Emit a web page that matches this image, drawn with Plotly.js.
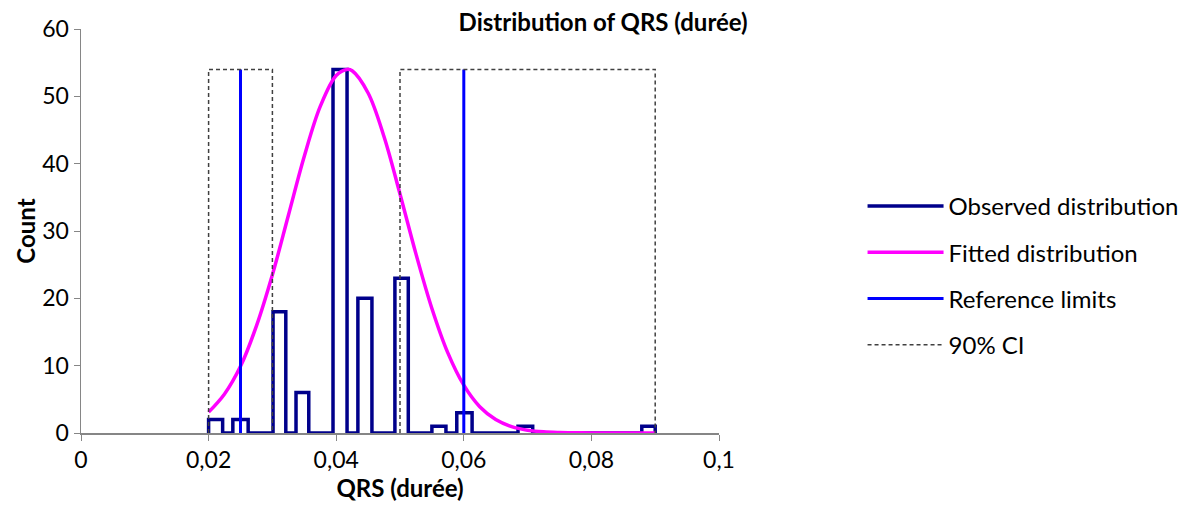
<!DOCTYPE html>
<html>
<head>
<meta charset="utf-8">
<script src="https://cdn.plot.ly/plotly-3.0.1.min.js"></script>
<style>html,body{margin:0;padding:0;background:#fff;}#chart{width:1192px;height:514px;}</style>
</head>
<body>
<div id="chart"></div>
<script>
// Observed distribution: bin edges and counts
const binLeft  = [0.0200, 0.0238, 0.0301, 0.0337, 0.0395, 0.0434, 0.0492, 0.0550, 0.0589, 0.0685, 0.0879];
const binRight = [0.0222, 0.0262, 0.0321, 0.0357, 0.0417, 0.0456, 0.0513, 0.0572, 0.0613, 0.0708, 0.0900];
const counts   = [2, 2, 18, 6, 54, 20, 23, 1, 3, 1, 1];

// Fitted distribution
const fitX = [0.0200, 0.0225, 0.0250, 0.0275, 0.0300, 0.0325, 0.0350, 0.0375, 0.0400, 0.0417, 0.0425, 0.0450, 0.0475, 0.0500, 0.0525, 0.0550, 0.0575, 0.0600, 0.0625, 0.0650, 0.0675, 0.0700, 0.0725, 0.0750, 0.0775, 0.0800, 0.0850, 0.0900];
const fitY = [3.1, 5.8, 9.9, 15.9, 23.5, 32.3, 41.1, 48.5, 53.1, 54.0, 53.8, 50.5, 44.0, 35.5, 26.6, 18.5, 11.9, 7.1, 3.9, 2.0, 0.95, 0.42, 0.17, 0.07, 0.03, 0.01, 0, 0];

// Reference limits and 90% CI bounds
const refLimits = [0.025, 0.06];
const ciLower = [0.02, 0.03];
const ciUpper = [0.05, 0.09];
const markerTop = 54;

const xTicks = [0, 0.02, 0.04, 0.06, 0.08, 0.1];
const yTicks = [0, 10, 20, 30, 40, 50, 60];

// step outline of histogram
const hx = [], hy = [];
for (let i = 0; i < counts.length; i++) {
  hx.push(binLeft[i], binLeft[i], binRight[i], binRight[i]);
  hy.push(0, counts[i], counts[i], 0);
}
// reference vertical lines
const rx = [], ry = [];
refLimits.forEach(v => { rx.push(v, v, null); ry.push(0, markerTop, null); });
// CI boxes
const cx = [], cy = [];
[ciLower, ciUpper].forEach(b => {
  cx.push(b[0], b[0], b[1], b[1], null);
  cy.push(0, markerTop, markerTop, 0, null);
});

const font = "Lato, 'Liberation Sans', sans-serif";
const traces = [
  {x: hx, y: hy, mode: 'lines', name: 'Observed distribution', legendgroup: 'a',
   line: {color: '#00008B', width: 3.5}},
  {x: fitX, y: fitY, mode: 'lines', name: 'Fitted distribution', legendgroup: 'b',
   line: {color: '#FF00FF', width: 3.5, shape: 'spline'}},
  {x: rx, y: ry, mode: 'lines', name: 'Reference limits', legendgroup: 'c',
   line: {color: '#0000FF', width: 3}},
  {x: cx, y: cy, mode: 'lines', name: '90% CI', legendgroup: 'd',
   line: {color: '#404040', width: 1.5, dash: '4px,3px'}}
];

const layout = {
  width: 1192, height: 514,
  margin: {l: 81, r: 473, t: 29, b: 81, autoexpand: false},
  paper_bgcolor: '#fff', plot_bgcolor: '#fff',
  separators: ',.',
  font: {family: font, size: 23, color: '#000'},
  title: {text: '<b>Distribution of QRS (durée)</b>', x: 0.506, xanchor: 'center', y: 0.957, yanchor: 'middle',
          font: {family: font, size: 24, color: '#000'}},
  showlegend: true,
  legend: {x: 1.225, xanchor: 'left', y: 0.39, yanchor: 'middle', tracegroupgap: 12,
           font: {family: font, size: 24, color: '#000'}, itemwidth: 76, bgcolor: 'rgba(0,0,0,0)'},
  xaxis: {range: [0, 0.1], tickvals: xTicks, ticks: 'outside', ticklen: 6, tickcolor: '#868686',
          showline: true, linecolor: '#868686', linewidth: 1.5, showgrid: false, zeroline: false,
          tickfont: {family: font, size: 23},
          title: {text: '<b>QRS (durée)</b>', standoff: 2, font: {family: font, size: 24}}},
  yaxis: {range: [0, 60], tickvals: yTicks, ticks: 'outside', ticklen: 6, tickcolor: '#868686',
          showline: true, linecolor: '#868686', linewidth: 1.5, showgrid: false, zeroline: false,
          tickfont: {family: font, size: 23},
          title: {text: '<b>Count</b>', standoff: 0, font: {family: font, size: 24}}}
};

Plotly.newPlot('chart', traces, layout, {displayModeBar: false, staticPlot: true});
</script>
</body>
</html>
